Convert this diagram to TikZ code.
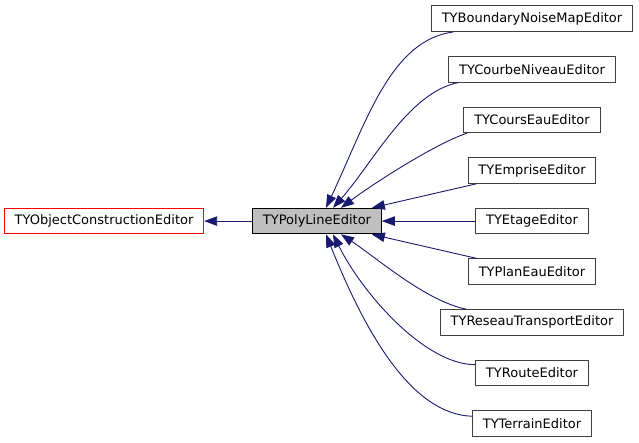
\documentclass[tikz,border=0pt]{standalone}
\usepackage{fontspec}
\setmainfont{DejaVu Sans}
\usepackage{xcolor}
\usetikzlibrary{arrows.meta,calc}
\definecolor{edgeblue}{HTML}{191970}
\definecolor{boxgray}{HTML}{BFBFBF}
\tikzset{>={Triangle[length=13pt,width=9.5pt]}}
\tikzset{cls/.style={draw=black!75,line width=1pt,minimum height=25.5pt,inner xsep=10.3pt,inner ysep=0pt,font=\fontsize{13}{15}\selectfont}}
\tikzset{edge/.style={->,draw=edgeblue,line width=0.9pt}}

\begin{document}
\begin{tikzpicture}[x=1pt,y=-1pt]
  \useasboundingbox (0,0) rectangle (639,443);

  % base classes
  \node[cls,draw=red] (ocon) at (104,221.1) {TYObjectConstructionEditor};
  \node[cls,draw=black,fill=boxgray] (poly) at (317,221.1) {TYPolyLineEditor};
  \draw[edge] (poly.west) -- (ocon.east);

  % derived editors
  \node[cls] (bnm) at (532,18.7) {TYBoundaryNoiseMapEditor};
  \node[cls] (courbe) at (532,69.3) {TYCourbeNiveauEditor};
  \node[cls] (courseau) at (532,119.9) {TYCoursEauEditor};
  \node[cls] (emprise) at (532,170.5) {TYEmpriseEditor};
  \node[cls] (etage) at (532,221.1) {TYEtageEditor};
  \node[cls] (planeau) at (532,271.7) {TYPlanEauEditor};
  \node[cls] (reseau) at (532,322.3) {TYReseauTransportEditor};
  \node[cls] (route) at (532,372.9) {TYRouteEditor};
  \node[cls] (terrain) at (532,423.5) {TYTerrainEditor};

  % edges above
  \draw[edge] ($(bnm.south west)+(22.5,0)$) .. controls +(-63,8) and +(40,-85) .. ($(poly.north)+(9,0)$);
  \draw[edge] ($(courbe.south west)+(10,0)$) .. controls +(-50,10) and +(40,-45) .. ($(poly.north)+(16,0)$);
  \draw[edge] ($(courseau.south west)+(3.5,0)$) .. controls +(-35,12) and +(28,-21) .. ($(poly.north)+(24,0)$);
  \draw[edge] ($(emprise.south west)+(9,0)$) -- ($(poly.north east)+(-10,0)$);

  % straight edge
  \draw[edge] (etage.west) -- (poly.east);

  % edges below
  \draw[edge] ($(planeau.north west)+(9,0)$) -- ($(poly.south east)+(-10,0)$);
  \draw[edge] ($(reseau.north west)+(26,0)$) .. controls +(-40,-8) and +(35,23) .. ($(poly.south)+(24,0)$);
  \draw[edge] ($(route.north west)+(0,5)$) .. controls +(-50,0) and +(30,60) .. ($(poly.south)+(16,0)$);
  \draw[edge] ($(terrain.north west)+(0,6)$) .. controls +(-60,-2) and +(40,100) .. ($(poly.south)+(9,0)$);
\end{tikzpicture}
\end{document}
